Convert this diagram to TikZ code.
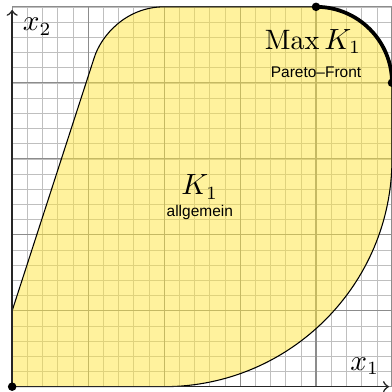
\documentclass[tikz,border=0pt]{standalone}
\usepackage{amsmath}
\usepackage{fontspec}
\setsansfont{Liberation Sans}
\usetikzlibrary{arrows, positioning}
\definecolor{regionyellow}{RGB}{255,230,60}

\begin{document}
\begin{tikzpicture}[
        minor grid/.style = {gray!50, very thin},
        major grid/.style = {gray!90, thin},
        region/.style = {fill=regionyellow, fill opacity=0.5, draw=black, thin},
        axis/.style = {->, semithick, black!85},
        front/.style = {line width=1.4pt},
        math label/.style = {font=\fontsize{10.5}{12}\selectfont},
        small label/.style = {font=\sffamily\fontsize{5.8}{7}\selectfont},
        dot/.style = {circle, fill, inner sep=0pt, minimum size=3.2pt}
    ]
    \useasboundingbox (-0.16,-0.07) rectangle (5.0,5.09);

    % Grid
    \draw[minor grid] (0,0) grid[step=0.2] (5,5);
    \draw[major grid] (0,0) grid[step=1] (5,5);

    % Region
    \draw[region] (0,0) -- (2,0) arc[start angle=-90, end angle=0, radius=3] -- (5,4)
        arc[start angle=0, end angle=90, radius=1] -- (2,5)
        .. controls (1.5,5) and (1.17,4.62) .. (1.08,4.33) -- (0,1) -- cycle;

    % Axes
    \draw[axis] (0,0) -- (4.96,0);
    \draw[axis] (0,0) -- (0,4.96);

    % Nodes
    \node (origin) [dot] at (0,0) {};
    \node (front start) [dot] at (5,4) {};
    \node (front end) [dot] at (4,5) {};
    \node (x1 label) [math label] at (4.64,0.27) {$x_1$};
    \node (x2 label) [math label] at (0.33,4.74) {$x_2$};
    \node (max label) [math label] at (3.96,4.54) {$\operatorname{Max} K_1$};
    \node (front label) [small label] at (4.0,4.14) {Pareto--Front};
    \node (set label) [math label] at (2.47,2.63) {$K_1$};
    \node (general label) [small label] at (2.47,2.29) {allgemein};

    % Pareto front
    \draw[front] (front start.center) arc[start angle=0, end angle=90, radius=1];

\end{tikzpicture}
\end{document}
